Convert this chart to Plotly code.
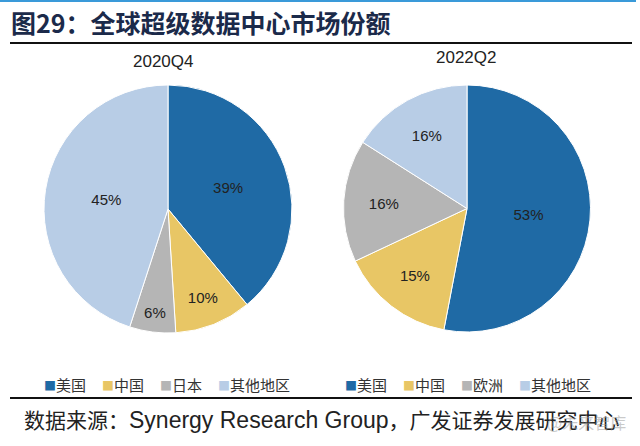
import plotly.graph_objects as go

W, H = 640, 446

labels_2020 = ["美国", "中国", "日本", "其他地区"]
values_2020 = [39, 10, 6, 45]
labels_2022 = ["美国", "中国", "欧洲", "其他地区"]
values_2022 = [53, 15, 16, 16]
colors = ["#1f6aa5", "#e8c665", "#b5b5b5", "#b8cde6"]

title_text = "图29：全球超级数据中心市场份额"
source_text = "数据来源：<span style='font-size:23px'>Synergy Research Group</span>，广发证券发展研究中心"

def px_x(x):
    return x / W

def px_y(y):
    return 1 - y / H

fig = go.Figure()
pie_font = dict(family="Liberation Sans, Arial", size=15, color="#222222")
fig.add_trace(go.Pie(
    labels=labels_2020, values=values_2020, sort=False, direction="clockwise", rotation=0,
    marker=dict(colors=colors, line=dict(color="white", width=1)),
    texttemplate="%{value}%", textposition="inside", insidetextorientation="horizontal",
    textfont=pie_font, showlegend=False,
    domain=dict(x=[px_x(44), px_x(292)], y=[px_y(333), px_y(85)]),
    hoverinfo="label+percent",
))
fig.add_trace(go.Pie(
    labels=labels_2022, values=values_2022, sort=False, direction="clockwise", rotation=0,
    marker=dict(colors=colors, line=dict(color="white", width=1)),
    texttemplate="%{value}%", textposition="inside", insidetextorientation="horizontal",
    textfont=pie_font, showlegend=False,
    domain=dict(x=[px_x(343), px_x(591)], y=[px_y(332), px_y(85)]),
    hoverinfo="label+percent",
))

annotations = [
    dict(text=title_text, x=px_x(9), y=px_y(22), xref="paper", yref="paper",
         xanchor="left", yanchor="middle", showarrow=False,
         font=dict(family="Noto Sans CJK SC", size=25, color="#1b2a4a", weight="bold")),
    dict(text="2020Q4", x=px_x(163), y=px_y(61), xref="paper", yref="paper",
         xanchor="center", yanchor="middle", showarrow=False,
         font=dict(family="Liberation Sans, Arial", size=17, color="#222222")),
    dict(text="2022Q2", x=px_x(466), y=px_y(57), xref="paper", yref="paper",
         xanchor="center", yanchor="middle", showarrow=False,
         font=dict(family="Liberation Sans, Arial", size=17, color="#222222")),
    dict(text=source_text, x=px_x(22), y=px_y(420), xref="paper", yref="paper",
         xanchor="left", yanchor="middle", showarrow=False,
         font=dict(family="Liberation Sans, Noto Sans CJK SC", size=21, color="#222222")),
    dict(text="@未来智库", x=px_x(628), y=px_y(422), xref="paper", yref="paper",
         xanchor="right", yanchor="middle", showarrow=False,
         font=dict(family="Noto Sans CJK SC", size=16, color="rgba(150,150,150,0.5)")),
]

# legend rows (one per pie), swatch directly before each label
def legend_row(labels, start_px):
    out = []
    for i, (lab, col) in enumerate(zip(labels, colors)):
        out.append(dict(
            text=f"<span style='color:{col};font-size:12px'>■</span>{lab}",
            x=px_x(start_px + i * 58), y=px_y(384), xref="paper", yref="paper",
            xanchor="left", yanchor="middle", showarrow=False,
            font=dict(family="Noto Sans CJK SC", size=15, color="#333333")))
    return out

annotations += legend_row(labels_2020, 42)
annotations += legend_row(labels_2022, 343)

fig.update_layout(
    width=W, height=H, margin=dict(l=0, r=0, t=0, b=0),
    paper_bgcolor="white", plot_bgcolor="white",
    annotations=annotations,
    shapes=[
        dict(type="line", xref="paper", yref="paper", x0=0, x1=px_x(636), y0=px_y(1), y1=px_y(1),
             line=dict(color="#3a9ad9", width=2)),
        dict(type="line", xref="paper", yref="paper", x0=px_x(10), x1=px_x(632), y0=px_y(43), y1=px_y(43),
             line=dict(color="#111111", width=2)),
        dict(type="line", xref="paper", yref="paper", x0=px_x(10), x1=px_x(632), y0=px_y(398), y1=px_y(398),
             line=dict(color="#111111", width=2)),
    ],
)

fig.write_html("out.html", config={"displayModeBar": False},
               post_script="document.body.style.margin='0';document.body.style.overflow='hidden';")
